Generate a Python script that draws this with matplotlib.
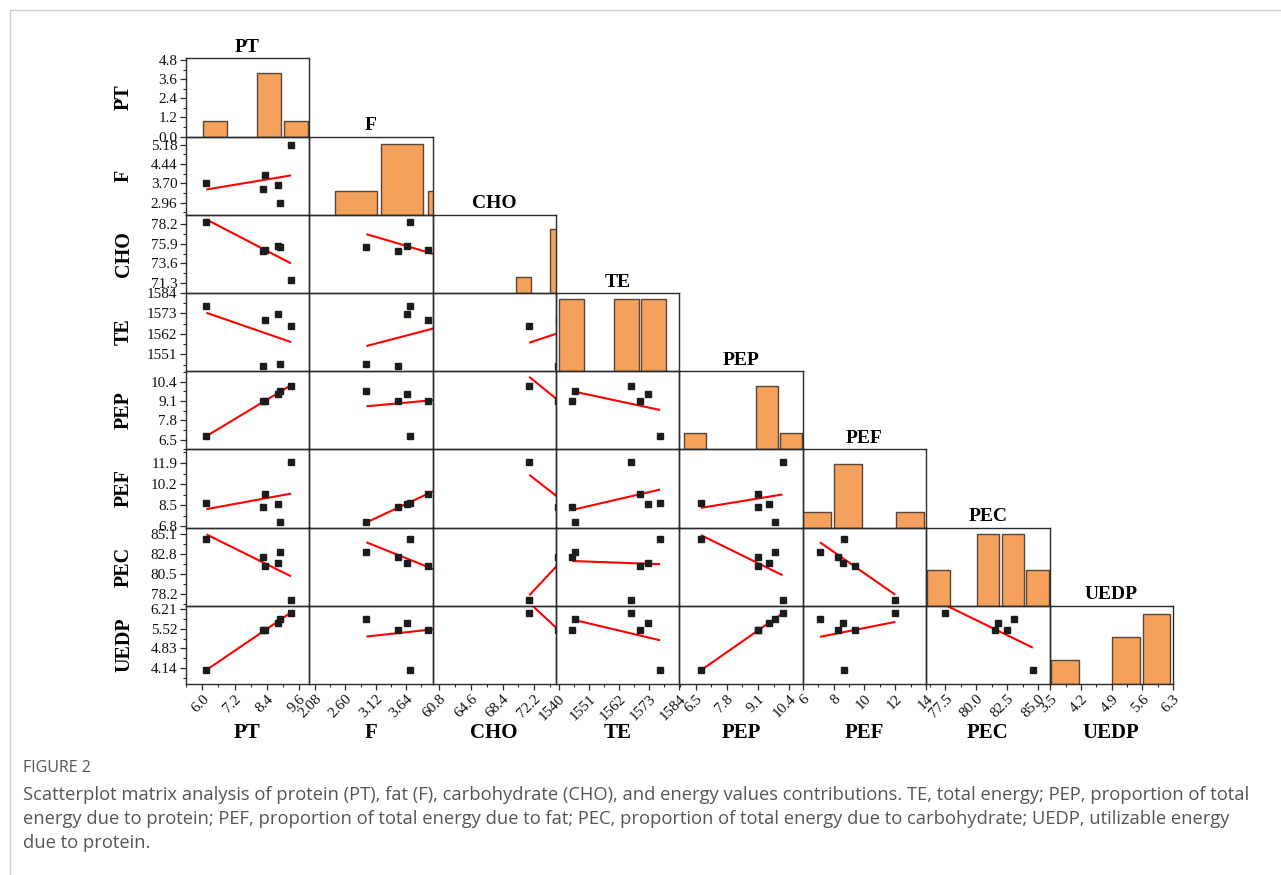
import numpy as np
import matplotlib
matplotlib.use("Agg")
import matplotlib.pyplot as plt
from matplotlib.ticker import AutoMinorLocator, FixedLocator, FixedFormatter

# ---------------------------------------------------------------- data
names = ["PT", "F", "CHO", "TE", "PEP", "PEF", "PEC", "UEDP"]

PT = [6.15, 8.26, 8.32, 8.80, 8.87, 9.30]
F = [3.70, 3.50, 4.01, 3.65, 2.96, 5.18]
CHO = [78.47, 75.05, 75.20, 75.70, 75.55, 71.60]
TE = [1577.0, 1545.0, 1569.5, 1572.5, 1546.0, 1566.3]
PEP = [6.72, 9.10, 9.10, 9.55, 9.80, 10.12]
PEF = [8.68, 8.32, 9.42, 8.62, 7.12, 12.00]
PEC = [84.56, 82.47, 81.47, 81.77, 83.03, 77.47]
UEDP = [4.06, 5.47, 5.47, 5.74, 5.86, 6.08]

data = {"PT": PT, "F": F, "CHO": CHO, "TE": TE, "PEP": PEP,
        "PEF": PEF, "PEC": PEC, "UEDP": UEDP}

# tick labels on the bottom (x) and left (y) edges of the matrix
x_tick_labels = {
    "PT": ["6.0", "7.2", "8.4", "9.6"],
    "F": ["2.08", "2.60", "3.12", "3.64"],
    "CHO": ["60.8", "64.6", "68.4", "72.2"],
    "TE": ["1540", "1551", "1562", "1573", "1584"],
    "PEP": ["6.5", "7.8", "9.1", "10.4"],
    "PEF": ["6", "8", "10", "12", "14"],
    "PEC": ["77.5", "80.0", "82.5", "85.0"],
    "UEDP": ["3.5", "4.2", "4.9", "5.6", "6.3"],
}
y_tick_labels = {
    "PT": ["0.0", "1.2", "2.4", "3.6", "4.8"],   # histogram counts
    "F": ["2.96", "3.70", "4.44", "5.18"],
    "CHO": ["71.3", "73.6", "75.9", "78.2"],
    "TE": ["1551", "1562", "1573", "1584"],
    "PEP": ["6.5", "7.8", "9.1", "10.4"],
    "PEF": ["6.8", "8.5", "10.2", "11.9"],
    "PEC": ["78.2", "80.5", "82.8", "85.1"],
    "UEDP": ["4.14", "4.83", "5.52", "6.21"],
}

caption_head = "FIGURE 2"
caption_lines = [
    "Scatterplot matrix analysis of protein (PT), fat (F), carbohydrate (CHO), and energy values contributions. TE, total energy; PEP, proportion of total",
    "energy due to protein; PEF, proportion of total energy due to fat; PEC, proportion of total energy due to carbohydrate; UEDP, utilizable energy",
    "due to protein.",
]

# ---------------------------------------------------------------- axis setup
x_lims = {"PT": (5.38, 9.97), "F": (1.98, 4.09), "CHO": (60.0, 74.8),
          "TE": (1539.0, 1584.0), "PEP": (5.82, 10.96), "PEF": (6.0, 14.0),
          "PEC": (75.95, 85.9), "UEDP": (3.48, 6.30)}
y_lims = {"F": (2.5, 5.5), "CHO": (70.13, 79.32), "TE": (1542.1, 1584.0),
          "PEP": (5.85, 11.12), "PEF": (6.7, 13.0), "PEC": (76.8, 85.9),
          "UEDP": (3.58, 6.34)}
hist_bins = {"PT": (6.0, 1.0), "F": (2.4, 0.8), "CHO": (70.0, 2.0),
             "TE": (1540.0, 10.0), "PEP": (6.0, 1.0), "PEF": (6.0, 2.0),
             "PEC": (76.0, 2.0), "UEDP": (3.5, 0.7)}
hist_top = {"PT": 4.93, "F": 3.31, "CHO": 4.91, "TE": 2.16, "PEP": 4.92,
            "PEF": 4.93, "PEC": 2.17, "UEDP": 3.34}

W, H = 1281, 875
fig = plt.figure(figsize=(W / 100, H / 100), dpi=100)
fig.patch.set_facecolor("white")

SERIF = ["Liberation Serif", "DejaVu Serif"]
SANS = ["Open Sans", "Noto Sans", "DejaVu Sans"]
EDGE = "#2b2b2b"
BAR = "#F4A15B"
BAR_EDGE = "#5a4535"

col_left, col_w = 185.7, 123.4
row_top, row_h = 58.3, 78.2
n = len(names)


def px_axes(x0, y0, x1, y1):
    return fig.add_axes([x0 / W, 1 - y1 / H, (x1 - x0) / W, (y1 - y0) / H])


def style_ticks(ax, axis, labels):
    vals = [float(s) for s in labels]
    target = ax.xaxis if axis == "x" else ax.yaxis
    target.set_major_locator(FixedLocator(vals))
    target.set_major_formatter(FixedFormatter(labels))
    target.set_minor_locator(AutoMinorLocator(2))


for j, cname in enumerate(names):
    for i in range(j, n):
        rname = names[i]
        x0 = col_left + j * col_w
        y0 = row_top + i * row_h
        ax = px_axes(x0, y0, x0 + col_w, y0 + row_h)
        ax.set_facecolor("none")
        for sp in ax.spines.values():
            sp.set_color(EDGE)
            sp.set_linewidth(1.0)
        ax.set_xlim(*x_lims[cname])
        xv = np.asarray(data[cname], dtype=float)

        if i == j:
            start, bw = hist_bins[cname]
            nb = int(np.floor((xv.max() - start) / bw)) + 1
            edges = start + bw * np.arange(nb + 1)
            counts, _ = np.histogram(xv, bins=edges)
            keep = counts > 0
            ax.bar(edges[:-1][keep] + 0.02 * bw, counts[keep],
                   width=0.9 * bw, align="edge",
                   color=BAR, edgecolor=BAR_EDGE, linewidth=1.0, zorder=2)
            ax.set_ylim(0, hist_top[cname])
            ax.text(0.5, 1.03, cname, transform=ax.transAxes, ha="center",
                    va="bottom", fontsize=14, fontweight="bold", family=SERIF)
        else:
            yv = np.asarray(data[rname], dtype=float)
            ax.set_ylim(*y_lims[rname])
            slope, icpt = np.polyfit(xv, yv, 1)
            xs = np.array([xv.min(), xv.max()])
            ax.plot(xs, slope * xs + icpt, color="#ff0000", lw=1.5,
                    solid_capstyle="butt", zorder=2)
            ax.plot(xv, yv, "s", ms=5.0, color="#1c1c1c", zorder=3)

        # ticks only on the outer edges of the matrix
        ax.tick_params(which="both", direction="out", colors=EDGE,
                       labelsize=11, labelcolor="#111111")
        ax.tick_params(which="major", length=4, width=0.9)
        ax.tick_params(which="minor", length=2.2, width=0.8)
        if j == 0:
            style_ticks(ax, "y", y_tick_labels[rname])
            ax.tick_params(axis="y", which="both", left=True, labelleft=True,
                           right=False, pad=2)
            for t in ax.get_yticklabels():
                t.set_family(SERIF)
        else:
            ax.tick_params(axis="y", which="both", left=False,
                           labelleft=False)
        if i == n - 1:
            style_ticks(ax, "x", x_tick_labels[cname])
            ax.tick_params(axis="x", which="both", bottom=True,
                           labelbottom=True, pad=2)
            for t in ax.get_xticklabels():
                t.set_family(SERIF)
                t.set_rotation(45)
                t.set_ha("right")
                t.set_va("top")
                t.set_rotation_mode("anchor")
            ax.text(0.5, (684 - 733) / row_h, cname, transform=ax.transAxes,
                    ha="center", va="center", fontsize=15,
                    fontweight="bold", family=SERIF)
        else:
            ax.tick_params(axis="x", which="both", bottom=False,
                           labelbottom=False)

# row labels on the left
for i, rname in enumerate(names):
    yc = row_top + (i + 0.5) * row_h
    fig.text(124 / W, 1 - yc / H, rname, rotation=90, ha="center",
             va="center", fontsize=14.5, fontweight="bold", family=SERIF)

# card border
fig.add_artist(plt.Line2D([10 / W, 1], [1 - 10 / H, 1 - 10 / H],
                          color="#cfcfcf", lw=1.0))
fig.add_artist(plt.Line2D([10 / W, 10 / W], [0, 1 - 10 / H],
                          color="#cfcfcf", lw=1.0))

# caption
fig.text(23 / W, 1 - 768 / H, caption_head, ha="left", va="center",
         fontsize=11.5, color="#555555", family=SANS)
for k, line in enumerate(caption_lines):
    fig.text(23 / W, 1 - (795 + 24 * k) / H, line, ha="left", va="center",
             fontsize=13.2, color="#555555", family=SANS)

fig.savefig("out.png", dpi=100, facecolor="white")
